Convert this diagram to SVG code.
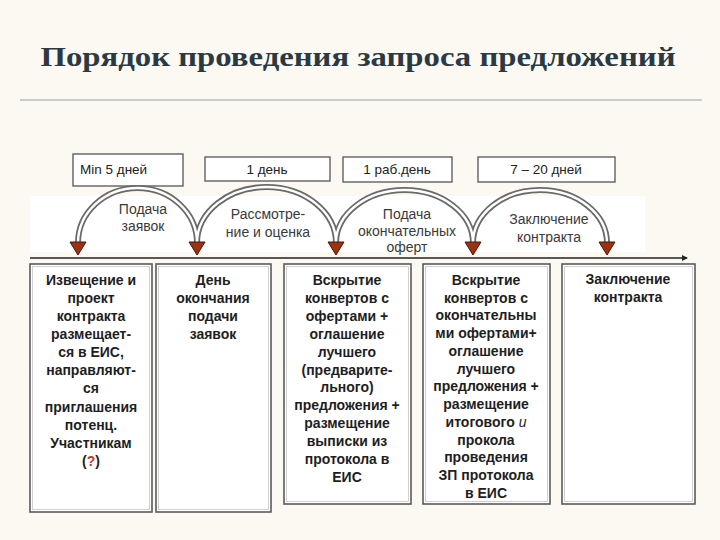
<svg xmlns="http://www.w3.org/2000/svg" width="720" height="540" viewBox="0 0 720 540">
<style>
.title{font-family:"Liberation Serif","DejaVu Serif",serif;font-size:28px;font-weight:bold;fill:#2b3942}
.dur{font-family:"Liberation Sans",Arial,sans-serif;font-size:13.5px;fill:#222}
.durbox{fill:#fff;stroke:#555;stroke-width:1.3}
.lbl{font-family:"Liberation Sans",Arial,sans-serif;font-size:14px;fill:#3a3a3a;text-anchor:middle}
.arcO{fill:none;stroke:#6a6a6a;stroke-width:6}
.arcI{fill:none;stroke:#fff;stroke-width:2.4}
.head{fill:#9a3214;stroke:#4a1406;stroke-width:1}
.box{fill:#fff;stroke:#5a5a5a;stroke-width:1.6}
.boxin{fill:none;stroke:#d0d0d0;stroke-width:1}
.bt{font-family:"Liberation Sans",Arial,sans-serif;font-size:14px;font-weight:bold;fill:#1e1e1e;text-anchor:middle}
</style>
<defs>
<marker id="endArrow" markerWidth="6" markerHeight="6" refX="5" refY="3" orient="auto" markerUnits="userSpaceOnUse">
<path d="M0,0 L6,3 L0,6 Z" fill="#222"/>
</marker>
</defs>
<rect x="0" y="0" width="720" height="540" fill="#fcf9f2"/>
<g id="title">
<text class="title" x="358" y="66" text-anchor="middle" textLength="635" lengthAdjust="spacingAndGlyphs">Порядок проведения запроса предложений</text>
<line x1="20" y1="100" x2="702" y2="100" stroke="#b6c0b8" stroke-width="1.5"/>
</g>
<rect x="30" y="196" width="615" height="56" fill="#ffffff"/>
<g id="durations">
<g id="dur1"><rect class="durbox" x="73" y="154" width="110" height="32"/><text class="dur" x="80" y="174">Min 5 дней</text></g>
<g id="dur2"><rect class="durbox" x="205" y="157" width="125" height="24"/><text class="dur" x="267" y="174" text-anchor="middle">1 день</text></g>
<g id="dur3"><rect class="durbox" x="343" y="157" width="109" height="25"/><text class="dur" x="397" y="174" text-anchor="middle">1 раб.день</text></g>
<g id="dur4"><rect class="durbox" x="478" y="157" width="137" height="25"/><text class="dur" x="546" y="174" text-anchor="middle">7 – 20 дней</text></g>
</g>
<g id="connectors">
<path class="arcO" d="M78,243 A59.5,55 0 0 1 197,243"/>
<path class="arcO" d="M197,243 A69.5,56 0 0 1 336,243"/>
<path class="arcO" d="M336,243 A68.5,53 0 0 1 473,243"/>
<path class="arcO" d="M473,243 A67,53 0 0 1 607,243"/>
<path class="arcI" d="M78,243 A59.5,55 0 0 1 197,243"/>
<path class="arcI" d="M197,243 A69.5,56 0 0 1 336,243"/>
<path class="arcI" d="M336,243 A68.5,53 0 0 1 473,243"/>
<path class="arcI" d="M473,243 A67,53 0 0 1 607,243"/>
<path class="head" d="M70,242 L86,242 L78,255 Z"/>
<path class="head" d="M189,242 L205,242 L197,255 Z"/>
<path class="head" d="M328,242 L344,242 L336,255 Z"/>
<path class="head" d="M465,242 L481,242 L473,255 Z"/>
<path class="head" d="M599,242 L615,242 L607,255 Z"/>
<line x1="30" y1="258" x2="687" y2="258" stroke="#222" stroke-width="1.5" marker-end="url(#endArrow)"/>
</g>
<g id="arcLabels">
<text class="lbl" x="143" y="214">Подача</text>
<text class="lbl" x="143" y="231">заявок</text>
<text class="lbl" x="268" y="219">Рассмотре-</text>
<text class="lbl" x="268" y="237">ние и оценка</text>
<text class="lbl" x="407" y="219">Подача</text>
<text class="lbl" x="407" y="236">окончательных</text>
<text class="lbl" x="407" y="252">оферт</text>
<text class="lbl" x="549" y="224">Заключение</text>
<text class="lbl" x="549" y="242">контракта</text>
</g>
<g id="step1">
<rect class="box" x="30" y="264" width="122" height="248"/>
<rect class="boxin" x="32.5" y="266.5" width="117" height="243"/>
<text class="bt" x="91" y="285">Извещение и</text>
<text class="bt" x="91" y="303">проект</text>
<text class="bt" x="91" y="321">контракта</text>
<text class="bt" x="91" y="339">размещает-</text>
<text class="bt" x="91" y="357">ся в ЕИС,</text>
<text class="bt" x="91" y="375">направляют-</text>
<text class="bt" x="91" y="393">ся</text>
<text class="bt" x="91" y="412">приглашения</text>
<text class="bt" x="91" y="430">потенц.</text>
<text class="bt" x="91" y="448">Участникам</text>
<text class="bt" x="91" y="466">(<tspan fill="#c0392b">?</tspan>)</text>
</g>
<g id="step2">
<rect class="box" x="156" y="264" width="115" height="248"/>
<rect class="boxin" x="158.5" y="266.5" width="110" height="243"/>
<text class="bt" x="213" y="285">День</text>
<text class="bt" x="213" y="303">окончания</text>
<text class="bt" x="213" y="321">подачи</text>
<text class="bt" x="213" y="339">заявок</text>
</g>
<g id="step3">
<rect class="box" x="284" y="264" width="127" height="240"/>
<rect class="boxin" x="286.5" y="266.5" width="122" height="235"/>
<text class="bt" x="347" y="285">Вскрытие</text>
<text class="bt" x="347" y="303">конвертов с</text>
<text class="bt" x="347" y="321">офертами +</text>
<text class="bt" x="347" y="339">оглашение</text>
<text class="bt" x="347" y="357">лучшего</text>
<text class="bt" x="347" y="375">(предварите-</text>
<text class="bt" x="347" y="392">льного)</text>
<text class="bt" x="347" y="410">предложения +</text>
<text class="bt" x="347" y="428">размещение</text>
<text class="bt" x="347" y="446">выписки из</text>
<text class="bt" x="347" y="464">протокола в</text>
<text class="bt" x="347" y="482">ЕИС</text>
</g>
<g id="step4">
<rect class="box" x="423" y="264" width="127" height="240"/>
<rect class="boxin" x="425.5" y="266.5" width="122" height="235"/>
<text class="bt" x="486" y="285">Вскрытие</text>
<text class="bt" x="486" y="303">конвертов с</text>
<text class="bt" x="486" y="320">окончательны</text>
<text class="bt" x="486" y="338">ми офертами+</text>
<text class="bt" x="486" y="356">оглашение</text>
<text class="bt" x="486" y="374">лучшего</text>
<text class="bt" x="486" y="391">предложения +</text>
<text class="bt" x="486" y="409">размещение</text>
<text class="bt" x="486" y="427">итогового  <tspan font-style="italic" font-weight="normal">и</tspan></text>
<text class="bt" x="486" y="445">прокола</text>
<text class="bt" x="486" y="462">проведения</text>
<text class="bt" x="486" y="480">ЗП протокола</text>
<text class="bt" x="486" y="498">в ЕИС</text>
</g>
<g id="step5">
<rect class="box" x="562" y="264" width="133" height="240"/>
<rect class="boxin" x="564.5" y="266.5" width="128" height="235"/>
<text class="bt" x="628" y="284">Заключение</text>
<text class="bt" x="628" y="302">контракта</text>
</g>
</svg>
